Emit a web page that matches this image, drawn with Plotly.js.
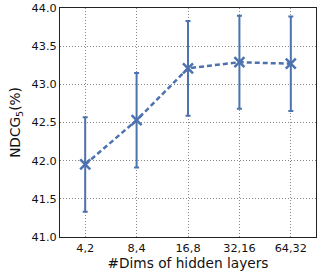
<!DOCTYPE html>
<html><head><meta charset="utf-8">
<script src="https://cdn.plot.ly/plotly-3.0.1.min.js"></script>
<style>body{margin:0;padding:0;background:#fff}#c{width:332px;height:277px}</style>
</head><body><div id="c"></div>
<script>
var categories = ["4,2", "8,4", "16,8", "32,16", "64,32"];
var ndcg = [41.95, 42.53, 43.21, 43.29, 43.27];
var errs = [0.62, 0.62, 0.62, 0.61, 0.62];
var yTicks = [41.0, 41.5, 42.0, 42.5, 43.0, 43.5, 44.0];
var col = "#4C72B0";
var trace = {
  x: categories, y: ndcg, type: "scatter", mode: "lines+markers",
  line: {color: col, width: 2.5, dash: "5px,3px"},
  marker: {symbol: "x-thin", size: 10, line: {color: col, width: 2.5}, color: col},
  error_y: {type: "data", array: errs, visible: true, color: col, thickness: 2, width: 2.5}
};
var layout = {
  width: 332, height: 277,
  margin: {l: 60, r: 16, t: 8, b: 39.5},
  paper_bgcolor: "#fff", plot_bgcolor: "#fff",
  font: {family: "DejaVu Sans", color: "#111", size: 11.3},
  showlegend: false,
  xaxis: {
    type: "category", range: [-0.49, 4.49],
    showgrid: true, gridcolor: "#888", griddash: "1px,2px", gridwidth: 1,
    showline: true, linecolor: "#222", linewidth: 1, mirror: true,
    ticks: "", tickfont: {size: 11.3, family: "DejaVu Sans", color: "#111"},
    title: {text: "#Dims of hidden layers", font: {size: 13.7, family: "DejaVu Sans", color: "#111"}, standoff: 3},
    zeroline: false
  },
  yaxis: {
    range: [41, 44], tickvals: yTicks, ticktext: yTicks.map(function(v){return v.toFixed(1);}),
    showgrid: true, gridcolor: "#888", griddash: "1px,2px", gridwidth: 1,
    showline: true, linecolor: "#222", linewidth: 1, mirror: true,
    ticks: "", tickfont: {size: 11.3, family: "DejaVu Sans", color: "#111"},
    title: {text: "NDCG<sub>5</sub>(%)", font: {size: 13.7, family: "DejaVu Sans", color: "#111"}, standoff: 7},
    zeroline: false
  }
};
Plotly.newPlot("c", [trace], layout, {staticPlot: true, displayModeBar: false});
</script></body></html>
